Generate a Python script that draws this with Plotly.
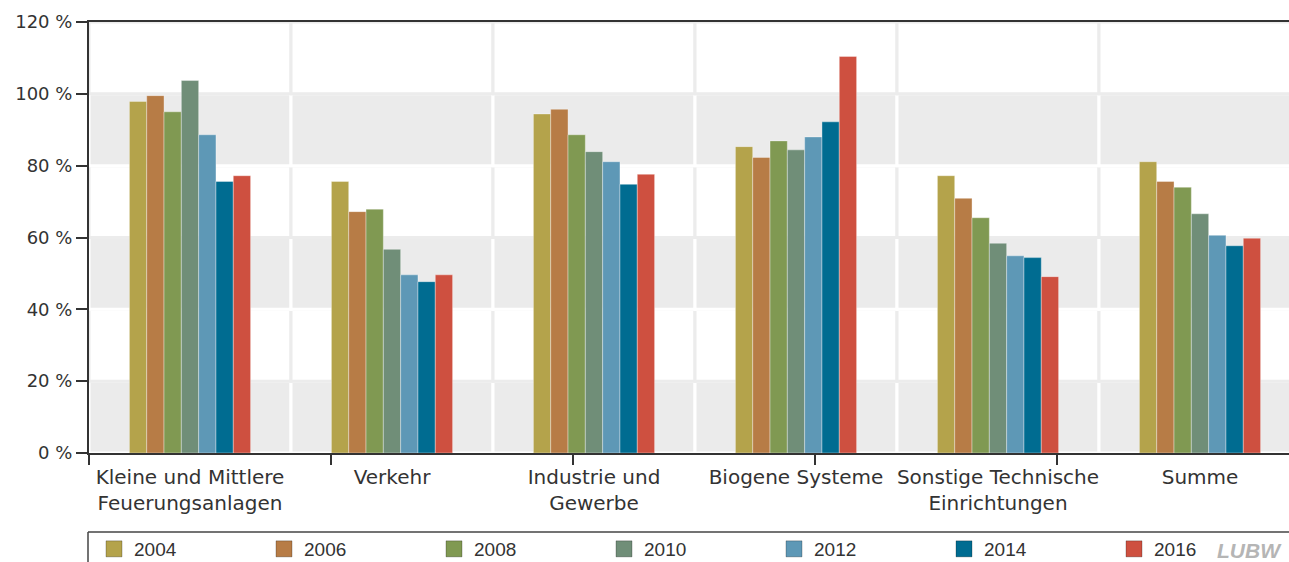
import plotly.graph_objects as go

# Emission sources (x categories) and survey years (series)
categories = [
    "Kleine und Mittlere<br>Feuerungsanlagen",
    "Verkehr",
    "Industrie und<br>Gewerbe",
    "Biogene Systeme",
    "Sonstige Technische<br>Einrichtungen",
    "Summe",
]
years = ["2004", "2006", "2008", "2010", "2012", "2014", "2016"]

# Values in percent, one list per year (order follows categories)
v2004 = [97.9, 75.6, 94.4, 85.3, 77.2, 81.1]
v2006 = [99.5, 67.2, 95.7, 82.3, 70.9, 75.6]
v2008 = [95.0, 67.9, 88.6, 86.9, 65.5, 74.0]
v2010 = [103.7, 56.7, 83.9, 84.4, 58.4, 66.6]
v2012 = [88.6, 49.6, 81.1, 88.0, 54.9, 60.6]
v2014 = [75.6, 47.7, 74.8, 92.2, 54.4, 57.7]
v2016 = [77.2, 49.6, 77.6, 110.4, 49.1, 59.8]
series = [v2004, v2006, v2008, v2010, v2012, v2014, v2016]

colors = ["#b4a34b", "#b77c46", "#809952", "#708e78", "#5e98b6", "#006c91", "#ce5040"]

y_ticks = [0, 20, 40, 60, 80, 100, 120]
y_labels = [f"{v} %" for v in y_ticks]

W, H = 1289, 562
ML, MT, MB = 89, 22, 109
PW = W - ML          # plot width in px
PH = H - MT - MB     # plot height in px


def px_x(p):
    return (p - ML) / PW


def px_y(p):
    return (H - MB - p) / PH


FONT = "DejaVu Sans, Verdana, sans-serif"
LEG_FONT = "Liberation Sans, Arial, sans-serif"
TXT = "#333333"

fig = go.Figure()

for yr, vals, col in zip(years, series, colors):
    fig.add_trace(go.Bar(
        name=yr, x=list(range(len(categories))), y=vals,
        marker=dict(color=col, line=dict(color="rgba(255,255,255,0.35)", width=1)),
        legendgroup=yr, showlegend=False, hoverinfo="skip",
    ))

# square legend keys, one per year
for yr, col in zip(years, colors):
    fig.add_trace(go.Scatter(
        name=yr, x=[None], y=[None], mode="markers", legendgroup=yr,
        marker=dict(symbol="square", size=17, color=col,
                    line=dict(color="rgba(0,0,0,0.25)", width=1)),
        hoverinfo="skip",
    ))

# invisible trace so the secondary tick axis is rendered
fig.add_trace(go.Scatter(x=[0], y=[0], xaxis="x2", mode="markers",
                         marker=dict(opacity=0), showlegend=False, hoverinfo="skip"))

# banded background cells with separators
shapes = []
for k in range(len(y_ticks) - 1):
    gray = (k % 2 == 0)
    for j in range(len(categories)):
        shapes.append(dict(
            type="rect", xref="x", yref="y", layer="below",
            x0=j - 0.5, x1=j + 0.5, y0=y_ticks[k], y1=y_ticks[k + 1],
            fillcolor="#ebebeb" if gray else "#ffffff",
            line=dict(color="#ffffff" if gray else "#ececec", width=3),
        ))

# legend frame
legend_top = px_y(532)
shapes.append(dict(type="line", xref="paper", yref="paper",
                   x0=px_x(88), x1=1.0, y0=legend_top, y1=legend_top,
                   line=dict(color="#444444", width=1.5)))
shapes.append(dict(type="line", xref="paper", yref="paper",
                   x0=px_x(88), x1=px_x(88), y0=legend_top, y1=px_y(575),
                   line=dict(color="#444444", width=1.5)))

fig.update_layout(
    width=W, height=H,
    margin=dict(l=ML, r=0, t=MT, b=MB, autoexpand=False),
    paper_bgcolor="white", plot_bgcolor="white",
    barmode="group", bargap=0.4, bargroupgap=0,
    font=dict(family=FONT, color=TXT, size=19),
    shapes=shapes,
    xaxis=dict(
        range=[-0.5, -0.5 + PW / 202.0],
        tickmode="array", tickvals=list(range(len(categories))), ticktext=categories,
        ticks="", showgrid=False, zeroline=False,
        showline=True, linecolor="#333333", linewidth=2, mirror=True,
        tickfont=dict(size=20, color=TXT, family=FONT), ticklabelstandoff=5,
    ),
    xaxis2=dict(
        overlaying="x", anchor="y", side="bottom",
        range=[0, PW / 242.0], tickmode="linear", tick0=0, dtick=1,
        ticks="outside", ticklen=11, tickwidth=1.5, tickcolor="#333333",
        showticklabels=False, showgrid=False, zeroline=False, showline=False,
    ),
    yaxis=dict(
        range=[0, 120], tickmode="array", tickvals=y_ticks, ticktext=y_labels,
        ticks="outside", ticklen=11, tickwidth=2, tickcolor="#333333",
        showgrid=False, zeroline=False,
        showline=True, linecolor="#333333", linewidth=2,
        tickfont=dict(size=18, color=TXT, family=FONT),
    ),
    legend=dict(
        orientation="h", x=px_x(94), xanchor="left", y=px_y(549), yanchor="middle",
        entrywidth=125, entrywidthmode="pixels", traceorder="normal",
        itemsizing="trace",
        font=dict(family=LEG_FONT, size=19, color=TXT),
        bgcolor="rgba(0,0,0,0)", itemclick=False, itemdoubleclick=False,
    ),
    annotations=[dict(
        text="<b><i>LUBW</i></b>", xref="paper", yref="paper",
        x=px_x(1284), xanchor="right", y=px_y(550), yanchor="middle",
        showarrow=False, font=dict(size=21, color="#b5b5b5", family=LEG_FONT),
    )],
)

fig.write_html("out.html")
